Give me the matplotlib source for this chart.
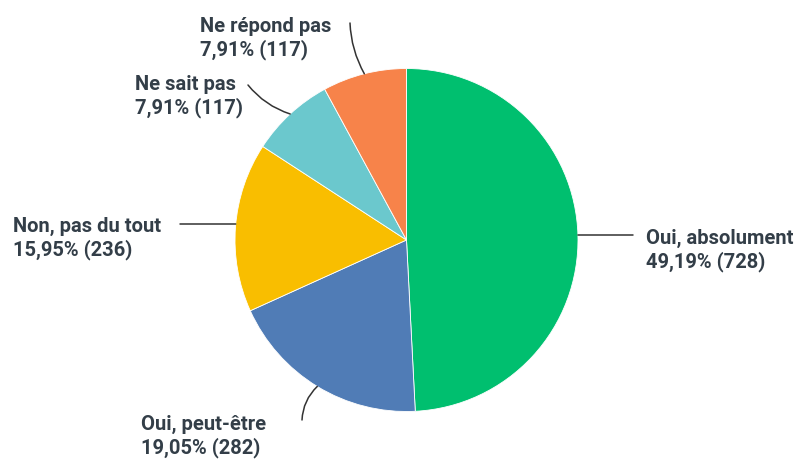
import matplotlib.pyplot as plt
import numpy as np

# Data
labels = ['Oui, absolument', 'Oui, peut-être', 'Non, pas du tout', 'Ne sait pas', 'Ne répond pas']
percents = [49.19, 19.05, 15.95, 7.91, 7.91]
counts = [728, 282, 236, 117, 117]
colors = ['#00BF6F', '#507CB6', '#F9BE00', '#6BC8CD', '#F7834A']

# label layout in pixels: left x, first-line baseline y
label_pos = [(646, 244), (141, 430), (13, 232), (135, 90), (200, 32)]
line_end = [(633, 235), (302, 420), (180, 224), (248, 85), (350, 23)]
line_rad = [0, -0.2, 0, 0.15, 0.12]
horizontal = [True, False, True, False, False]

W, H = 800, 459
fig = plt.figure(figsize=(W / 100, H / 100), dpi=100)
ax = fig.add_axes([0, 0, 1, 1])

cx, cy, r = 406.5, H - 240, 171.5
wedges, _ = ax.pie(percents, colors=colors, startangle=90, counterclock=False,
                   center=(cx, cy), radius=r, frame=True,
                   wedgeprops=dict(linewidth=0.6, edgecolor='white'))
ax.set_xlim(0, W)
ax.set_ylim(0, H)
ax.set_aspect('equal')
ax.axis('off')

text_color = '#333E48'
for i, w in enumerate(wedges):
    ex, ey = line_end[i]
    ey = H - ey
    if horizontal[i]:
        # straight connector: meet the circle at the label's height
        dy = ey - cy
        dx = np.sqrt(r ** 2 - dy ** 2)
        px = cx + dx if ex > cx else cx - dx
        py = ey
    else:
        ang = np.deg2rad((w.theta1 + w.theta2) / 2)
        px, py = cx + r * np.cos(ang), cy + r * np.sin(ang)
    ax.annotate('', xy=(px, py), xytext=(ex, ey),
                arrowprops=dict(arrowstyle='-', color='#333333', lw=1.1,
                                shrinkA=0, shrinkB=0,
                                connectionstyle=f'arc3,rad={line_rad[i]}'))
    tx, ty = label_pos[i]
    line1 = labels[i]
    line2 = f"{percents[i]:.2f}% ({counts[i]})".replace('.', ',')
    ax.text(tx, H - ty, line1, ha='left', va='baseline', fontsize=14.5,
            fontweight='bold', color=text_color, family='Roboto')
    ax.text(tx, H - ty - 23, line2, ha='left', va='baseline', fontsize=14.5,
            fontweight='bold', color=text_color, family='Roboto')

fig.savefig('out.png', dpi=100)
